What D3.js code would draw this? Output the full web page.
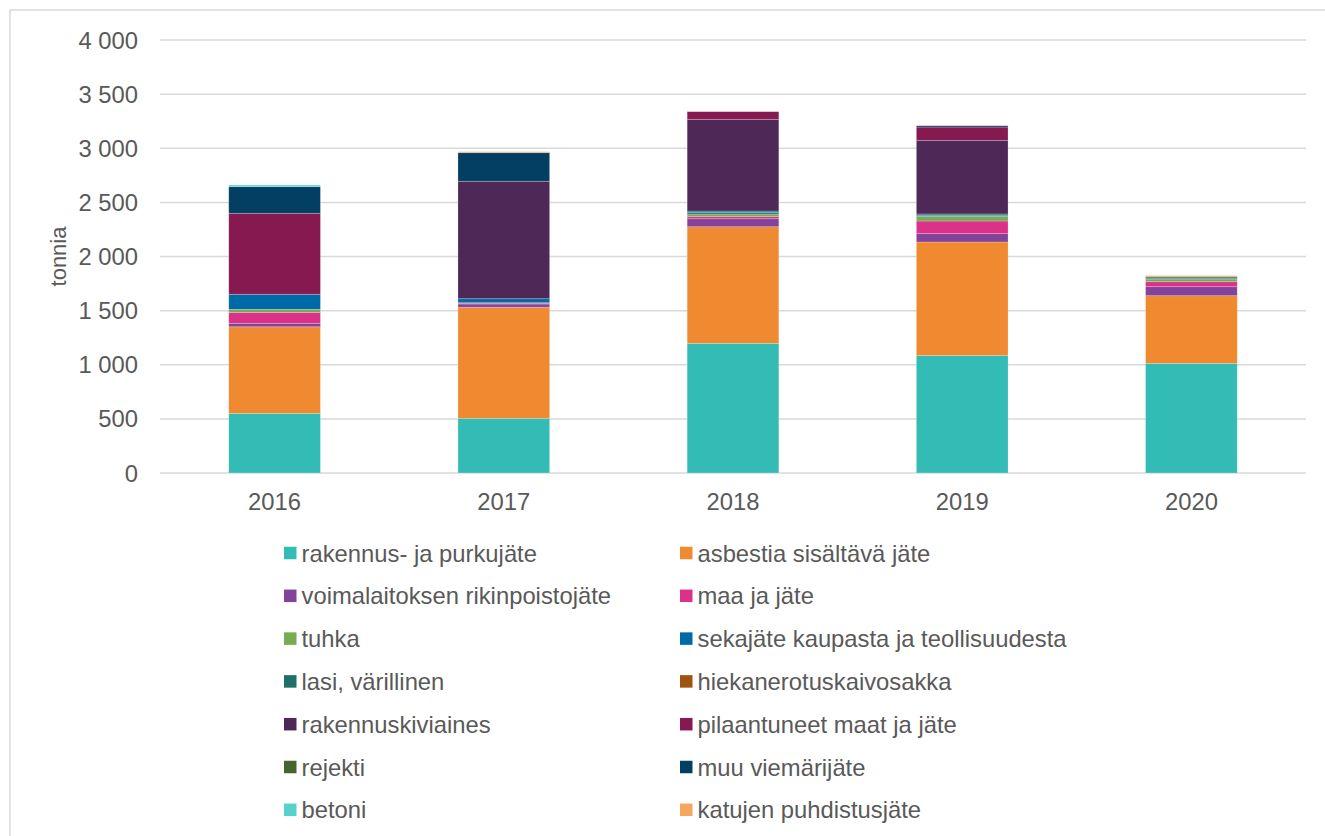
<!DOCTYPE html>
<html>
<head>
<meta charset="utf-8">
<script src="https://cdn.jsdelivr.net/npm/d3@7"></script>
<style>
  html, body { margin: 0; padding: 0; background: #fff; }
  svg { display: block; font-family: "Liberation Sans", Arial, sans-serif; }
</style>
</head>
<body>
<div id="chart"></div>
<script>
// Data
const years = ['2016', '2017', '2018', '2019', '2020'];

const seriesNames = [
  'rakennus- ja purkujäte',
  'asbestia sisältävä jäte',
  'voimalaitoksen rikinpoistojäte',
  'maa ja jäte',
  'tuhka',
  'sekajäte kaupasta ja teollisuudesta',
  'lasi, värillinen',
  'hiekanerotuskaivosakka',
  'rakennuskiviaines',
  'pilaantuneet maat ja jäte',
  'rejekti',
  'muu viemärijäte',
  'betoni',
  'katujen puhdistusjäte'
];

const seriesColors = [
  '#33bbb5', '#f08a30', '#84439a', '#dc3188', '#76ad50', '#0069a8', '#1f6f6b',
  '#a0520f', '#4e2857', '#861a50', '#46642d', '#023f63', '#57d1cb', '#f4a75e'
];

// values per series, one per year (2016..2020), tonnia
const rakennusPurku   = [551, 505, 1198, 1084, 1013];
const asbesti         = [800, 1026, 1077, 1050, 625];
const rikinpoisto     = [32, 30, 74, 77, 83];
const maaJaJate       = [101, 8, 19, 117, 46];
const tuhka           = [28, 4, 25, 43, 25];
const sekajate        = [139, 37, 12, 10, 8];
const lasi            = [0, 0, 15, 12, 11];
const hiekanerotus    = [0, 0, 0, 0, 0];
const kiviaines       = [0, 1085, 847, 680, 0];
const pilaantuneet    = [748, 0, 71, 123, 0];
const rejekti         = [0, 0, 0, 0, 0];
const muuViemari      = [246, 264, 0, 12, 0];
const betoni          = [15, 0, 0, 0, 0];
const katujen         = [0, 9, 0, 0, 12];

const seriesValues = [
  rakennusPurku, asbesti, rikinpoisto, maaJaJate, tuhka, sekajate, lasi,
  hiekanerotus, kiviaines, pilaantuneet, rejekti, muuViemari, betoni, katujen
];

const yTicks = [0, 500, 1000, 1500, 2000, 2500, 3000, 3500, 4000];

// Build table for stack
const table = years.map((y, i) => {
  const row = { year: y };
  seriesNames.forEach((s, k) => { row[s] = seriesValues[k][i]; });
  return row;
});

const width = 1325;
const height = 836;
const textColor = '#595959';
const gridColor = '#d9d9d9';
const fontSize = 23.8;

const margin = { left: 160, right: 1306, top: 40, bottom: 473 };

const x = d3.scaleBand()
  .domain(years)
  .range([margin.left, margin.right])
  .paddingInner(0.6)
  .paddingOuter(0.3);

const y = d3.scaleLinear()
  .domain([0, 4000])
  .range([margin.bottom, margin.top]);

const locale = d3.formatLocale({ decimal: ',', thousands: '\u00a0', grouping: [3], currency: ['', ' €'] });
const fmt = locale.format(',d');

const svg = d3.select('#chart').append('svg')
  .attr('width', width)
  .attr('height', height)
  .attr('viewBox', [0, 0, width, height]);

// Chart frame
svg.append('rect')
  .attr('x', 10)
  .attr('y', 10)
  .attr('width', width)
  .attr('height', height)
  .attr('fill', 'none')
  .attr('stroke', gridColor)
  .attr('stroke-width', 1.5);

// Gridlines
svg.append('g')
  .selectAll('line')
  .data(yTicks)
  .join('line')
  .attr('x1', margin.left)
  .attr('x2', margin.right)
  .attr('y1', d => y(d))
  .attr('y2', d => y(d))
  .attr('stroke', gridColor)
  .attr('stroke-width', 1.5);

// Y axis labels
svg.append('g')
  .selectAll('text')
  .data(yTicks)
  .join('text')
  .attr('x', 138)
  .attr('y', d => y(d))
  .attr('dy', '0.36em')
  .attr('text-anchor', 'end')
  .attr('font-size', fontSize + 'px')
  .attr('fill', textColor)
  .text(d => fmt(d));

// Y axis title
svg.append('text')
  .attr('transform', `translate(58, ${(margin.top + margin.bottom) / 2}) rotate(-90)`)
  .attr('text-anchor', 'middle')
  .attr('dy', '0.36em')
  .attr('font-size', '22px')
  .attr('fill', textColor)
  .text('tonnia');

// Stacked bars
const stack = d3.stack().keys(seriesNames);
const stacked = stack(table);
const color = d3.scaleOrdinal().domain(seriesNames).range(seriesColors);

svg.append('g')
  .selectAll('g')
  .data(stacked)
  .join('g')
  .attr('fill', d => color(d.key))
  .selectAll('rect')
  .data(d => d.filter(p => p[1] - p[0] > 0))
  .join('rect')
  .attr('x', d => x(d.data.year))
  .attr('width', x.bandwidth())
  .attr('y', d => y(d[1]))
  .attr('height', d => y(d[0]) - y(d[1]))
  .attr('stroke', 'rgba(255,255,255,0.3)')
  .attr('stroke-width', 0.75);

// X labels
svg.append('g')
  .selectAll('text')
  .data(years)
  .join('text')
  .attr('x', d => x(d) + x.bandwidth() / 2)
  .attr('y', 510)
  .attr('text-anchor', 'middle')
  .attr('font-size', fontSize + 'px')
  .attr('fill', textColor)
  .text(d => d);

// Legend: two columns, row-major
const legendCols = [284, 680];
const legendRow0 = 553;
const legendRowStep = 42.8;
const sw = 12.5;

const legend = svg.append('g')
  .selectAll('g')
  .data(seriesNames)
  .join('g')
  .attr('transform', (d, i) => `translate(${legendCols[i % 2]}, ${legendRow0 + Math.floor(i / 2) * legendRowStep})`);

legend.append('rect')
  .attr('x', 0)
  .attr('y', -sw / 2)
  .attr('width', sw)
  .attr('height', sw)
  .attr('fill', d => color(d));

legend.append('text')
  .attr('x', sw + 5)
  .attr('y', 0)
  .attr('dy', '0.36em')
  .attr('font-size', fontSize + 'px')
  .attr('fill', textColor)
  .text(d => d);
</script>
</body>
</html>
